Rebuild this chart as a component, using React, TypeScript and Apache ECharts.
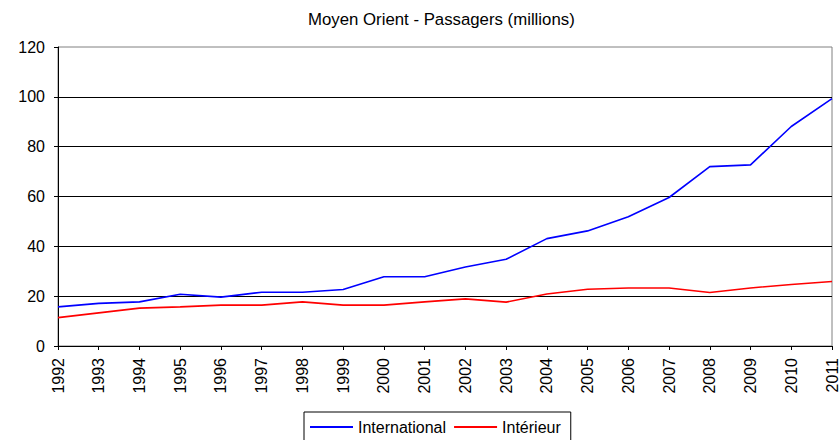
import React, { useEffect, useRef } from "react";
import * as echarts from "echarts";

const years = ["1992","1993","1994","1995","1996","1997","1998","1999","2000","2001","2002","2003","2004","2005","2006","2007","2008","2009","2010","2011"];
const international = [15.7, 17.1, 17.7, 20.8, 19.6, 21.6, 21.6, 22.7, 27.8, 27.8, 31.7, 34.8, 43.1, 46.2, 51.9, 59.6, 72.0, 72.7, 88.1, 99.3];
const interieur = [11.4, 13.3, 15.2, 15.7, 16.4, 16.4, 17.7, 16.4, 16.4, 17.7, 18.9, 17.6, 20.9, 22.8, 23.3, 23.3, 21.5, 23.3, 24.7, 25.9];
const titleText = "Moyen Orient - Passagers (millions)";

const FONT = "'Liberation Sans', Arial, sans-serif";

export default function App() {
  const ref = useRef<HTMLDivElement>(null);
  useEffect(() => {
    if (!ref.current) return;
    const chart = echarts.init(ref.current, null, { renderer: "svg" });
    chart.setOption({
      animation: false,
      backgroundColor: "#ffffff",
      textStyle: { fontFamily: FONT },
      title: {
        text: titleText,
        left: 308,
        top: 11,
        padding: 0,
        textStyle: { fontFamily: FONT, fontSize: 16.8, fontWeight: "normal", color: "#000" },
      },
      legend: {
        left: 304,
        top: 412,
        padding: [7, 10, 7, 6],
        borderColor: "#000",
        borderWidth: 1,
        itemWidth: 43,
        itemHeight: 2,
        itemGap: 8,
        icon: "rect",
        textStyle: { fontFamily: FONT, fontSize: 16, color: "#000", lineHeight: 16 },
        data: ["International", "Intérieur"],
      },
      grid: {
        left: 58,
        right: 3,
        top: 47,
        bottom: 94,
        show: true,
        borderColor: "#808080",
        borderWidth: 1,
        backgroundColor: "transparent",
      },
      xAxis: {
        type: "category",
        data: years,
        boundaryGap: false,
        axisLine: { lineStyle: { color: "#000", width: 1 } },
        axisTick: { show: true, length: 4, inside: false, alignWithLabel: true, lineStyle: { color: "#000" } },
        axisLabel: { rotate: 90, margin: 12, fontSize: 16, color: "#000", fontFamily: FONT, interval: 0 },
        splitLine: { show: false },
      },
      yAxis: {
        type: "value",
        min: 0,
        max: 120,
        interval: 20,
        axisLine: { show: true, lineStyle: { color: "#000", width: 1 } },
        axisTick: { show: true, length: 4, lineStyle: { color: "#000" } },
        axisLabel: { margin: 13, fontSize: 16, color: "#000", fontFamily: FONT },
        splitLine: { show: true, showMaxLine: false, lineStyle: { color: "#000", width: 1 } },
      },
      series: [
        {
          name: "International",
          type: "line",
          data: international,
          showSymbol: false,
          symbol: "none",
          itemStyle: { color: "#0000ff" },
          lineStyle: { color: "#0000ff", width: 1.6 },
        },
        {
          name: "Intérieur",
          type: "line",
          data: interieur,
          showSymbol: false,
          symbol: "none",
          itemStyle: { color: "#ff0000" },
          lineStyle: { color: "#ff0000", width: 1.6 },
        },
      ],
    });
    return () => chart.dispose();
  }, []);
  return (
    <div
      ref={ref}
      style={{ position: "fixed", left: 0, top: 0, width: 840, height: 440, background: "#fff" }}
    />
  );
}
